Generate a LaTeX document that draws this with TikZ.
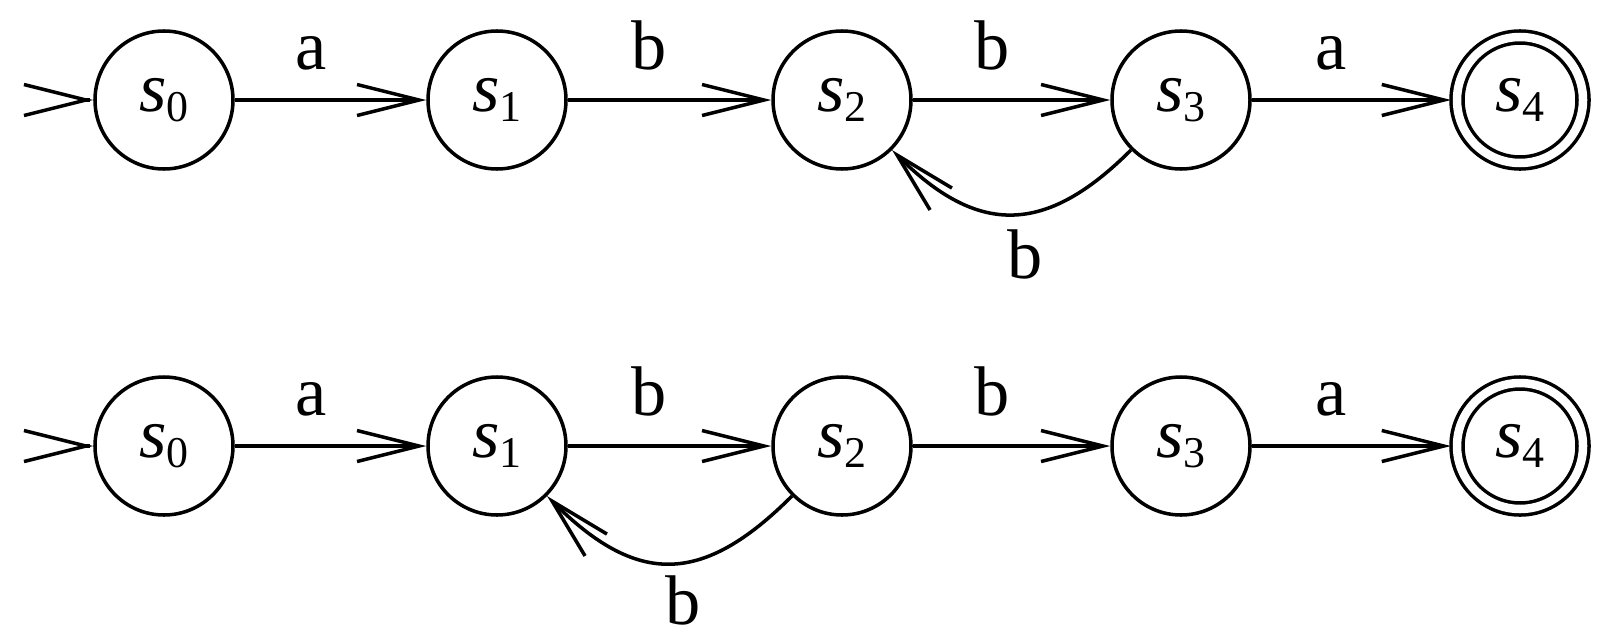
\documentclass[tikz,border=0pt]{standalone}
\usepackage{fontspec}
\setmainfont{Liberation Serif}
\usetikzlibrary{arrows.meta}
\newcommand{\sname}[1]{\textit{s}\raisebox{-3pt}{\fontsize{12.5}{12.5}\selectfont #1}}
\tikzset{
 state/.style={draw, circle, minimum size=1.38cm, inner sep=0, line width=1pt},
 accept/.style={state, minimum size=1.26cm, double, double distance=.085cm, outer sep=.06cm},
 edge/.style={line width=1pt, -{Straight Barb[length=.62cm,width=.31cm]}},
 lbl/.style={inner sep=0},
}
\begin{document}
\begin{tikzpicture}[font=\fontsize{20}{24}\selectfont]
\useasboundingbox (0,0) rectangle (16.08,-6.38);
\foreach \r/\y in {t/-1.00,b/-4.46} {
 \node[state] (\r0) at (1.64,\y) {\sname0};
 \node[state] (\r1) at (4.97,\y) {\sname1};
 \node[state] (\r2) at (8.42,\y) {\sname2};
 \node[state] (\r3) at (11.81,\y) {\sname3};
 \node[accept] (\r4) at (15.20,\y) {\sname4};
 \coordinate (\r st) at ([xshift=-1pt]\r0.west);
 \draw[edge] (\r st) -- (\r0);
 \draw[edge] (\r0) -- node[lbl, pos=.4, above=.28cm] {a} (\r1);
 \draw[edge] (\r1) -- node[lbl, pos=.4, above=.28cm] {b} (\r2);
 \draw[edge] (\r2) -- node[lbl, pos=.4, above=.28cm] {b} (\r3);
 \draw[edge] (\r3) -- node[lbl, pos=.4, above=.28cm] {a} (\r4);
}
% back edges
\draw[edge] (t3) to[out=-135, in=-45, looseness=1.3] node[lbl, pos=.44, below=.15cm] {b} (t2);
\draw[edge] (b2) to[out=-135, in=-45, looseness=1.33] node[lbl, pos=.44, below=.12cm] {b} (b1);
\end{tikzpicture}
\end{document}
